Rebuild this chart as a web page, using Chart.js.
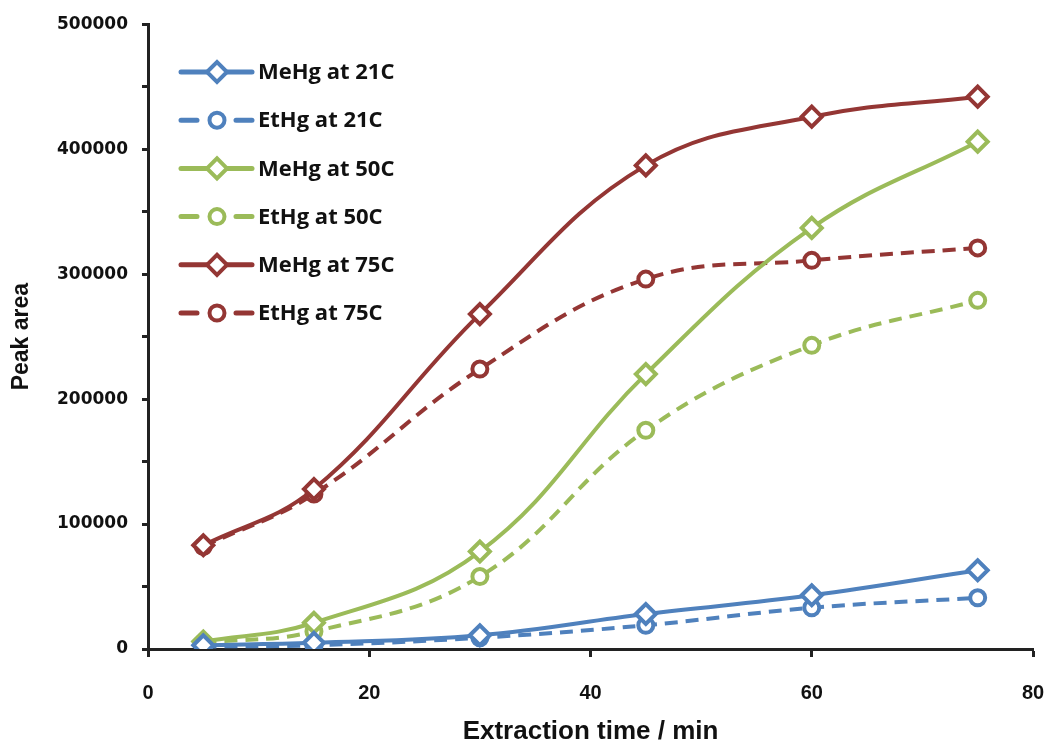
<!DOCTYPE html>
<html>
<head>
<meta charset="utf-8">
<script src="https://cdn.jsdelivr.net/npm/chart.js@4/dist/chart.umd.min.js"></script>
<style>
  html, body { margin: 0; padding: 0; background: #fff; overflow: hidden; }
  #wrap { width: 1050px; height: 747px; position: relative; }
</style>
</head>
<body>
<div id="wrap"><canvas id="chart"></canvas></div>
<script>
// Extraction times (min)
const times = [5, 15, 30, 45, 60, 75];

// Peak areas
const meHg21 = [3000, 5000, 11000, 28000, 43000, 63000];
const etHg21 = [2000, 3000, 9000, 19000, 33000, 41000];
const meHg50 = [6000, 21000, 78000, 220000, 337000, 406000];
const etHg50 = [5000, 14000, 58000, 175000, 243000, 279000];
const meHg75 = [83000, 128000, 268000, 387000, 426000, 442000];
const etHg75 = [82000, 124000, 224000, 296000, 311000, 321000];

const labels = ['MeHg at 21C', 'EtHg at 21C', 'MeHg at 50C', 'EtHg at 50C', 'MeHg at 75C', 'EtHg at 75C'];

const blue = '#4F81BD';
const green = '#9BBB59';
const red = '#943634';

function series(label, values, color, dashed) {
    return {
        label: label,
        data: times.map((t, i) => ({ x: t, y: values[i] })),
        borderColor: color,
        backgroundColor: '#ffffff',
        borderWidth: 4,
        borderDash: dashed ? [13, 8] : [],
        tension: 0.4,
        pointStyle: dashed ? 'circle' : 'rectRot',
        pointRadius: dashed ? 7.5 : 10,
        pointBorderWidth: 4,
        pointBackgroundColor: '#ffffff',
        pointBorderColor: color
    };
}

const datasets = [
    series(labels[0], meHg21, blue, false),
    series(labels[1], etHg21, blue, true),
    series(labels[2], meHg50, green, false),
    series(labels[3], etHg50, green, true),
    series(labels[4], meHg75, red, false),
    series(labels[5], etHg75, red, true)
];

// Legend drawn inside the plot: line sample with marker, then text
const insideLegend = {
    id: 'insideLegend',
    afterDraw(chart) {
        const ctx = chart.ctx;
        const x0 = 181, x1 = 252, xm = 217, xt = 258;
        chart.data.datasets.forEach((ds, i) => {
            const y = 72 + i * 48.2;
            ctx.save();
            ctx.setLineDash([]);
            ctx.strokeStyle = ds.borderColor;
            ctx.lineWidth = 5;
            ctx.lineCap = 'round';
            ctx.beginPath();
            if (ds.borderDash.length) {
                ctx.moveTo(x0, y); ctx.lineTo(x0 + 16, y);
                ctx.moveTo(x1 - 16, y); ctx.lineTo(x1, y);
            } else {
                ctx.moveTo(x0, y); ctx.lineTo(x1, y);
            }
            ctx.stroke();
            ctx.fillStyle = '#ffffff';
            ctx.lineWidth = 4;
            Chart.helpers.drawPoint(ctx, {
                pointStyle: ds.pointStyle,
                radius: ds.pointRadius,
                rotation: 0,
                borderWidth: 4
            }, xm, y);
            ctx.fillStyle = '#111';
            ctx.font = 'bold 22px "Open Sans"';
            ctx.textBaseline = 'middle';
            ctx.fillText(ds.label, xt, y + 1);
            ctx.restore();
        });
    }
};

new Chart(document.getElementById('chart').getContext('2d'), {
    type: 'line',
    data: { datasets: datasets },
    plugins: [insideLegend],
    options: {
        responsive: true,
        maintainAspectRatio: false,
        animation: false,
        layout: { padding: { top: 23, right: 17, left: 0, bottom: 0 } },
        plugins: {
            legend: { display: false },
            tooltip: { enabled: false }
        },
        scales: {
            x: {
                type: 'linear',
                min: 0,
                max: 80,
                ticks: {
                    stepSize: 20,
                    padding: 24,
                    color: '#111',
                    font: { family: 'Liberation Sans', weight: 'bold', size: 20 }
                },
                grid: {
                    drawOnChartArea: false,
                    drawTicks: true,
                    tickLength: 8,
                    tickWidth: 3,
                    tickColor: '#222'
                },
                border: { color: '#222', width: 3 },
                title: {
                    display: true,
                    text: 'Extraction time / min',
                    color: '#111',
                    font: { family: 'Liberation Sans', weight: 'bold', size: 26 },
                    padding: { top: 19, bottom: 0 }
                },
                afterFit(scale) {
                    scale.height = 98;
                    scale.paddingLeft = 0;
                    scale.paddingRight = 0;
                }
            },
            y: {
                min: 0,
                max: 500000,
                ticks: {
                    stepSize: 50000,
                    padding: 14,
                    color: '#111',
                    font: { family: 'DejaVu Sans', weight: 'bold', size: 17 },
                    callback: v => (v % 100000 === 0 ? String(v) : '')
                },
                grid: {
                    drawOnChartArea: false,
                    drawTicks: true,
                    tickLength: 6,
                    tickWidth: 3,
                    tickColor: '#222'
                },
                border: { color: '#222', width: 3 },
                title: {
                    display: true,
                    text: 'Peak area',
                    color: '#111',
                    font: { family: 'Liberation Sans', weight: 'bold', size: 23 },
                    padding: { top: 8, bottom: 0 }
                },
                afterFit(scale) { scale.width = 148; }
            }
        }
    }
});
</script>
</body>
</html>
